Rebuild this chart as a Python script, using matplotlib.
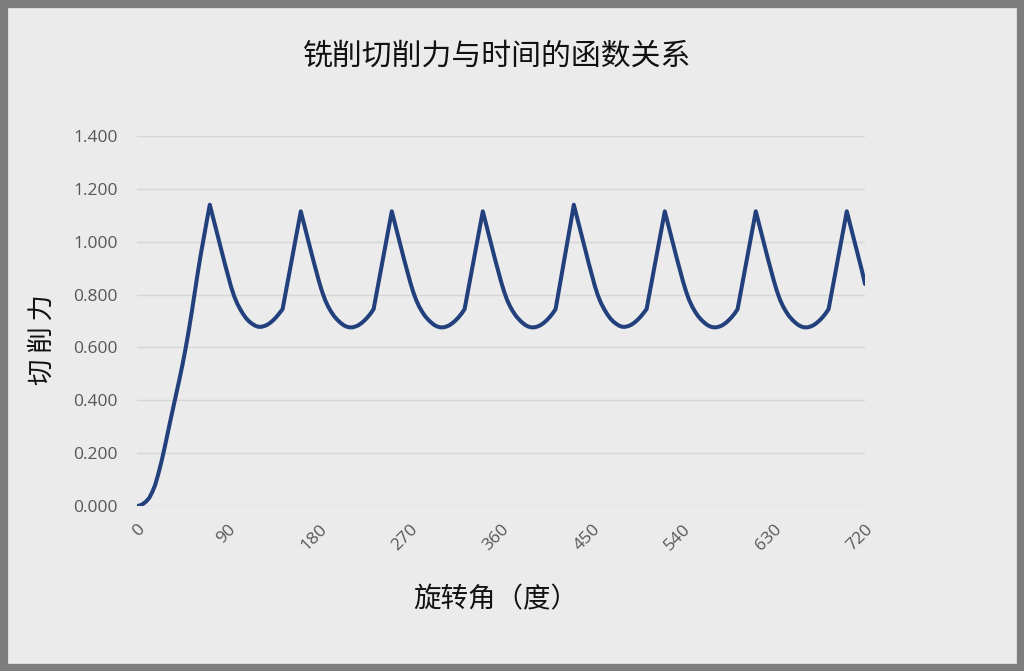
import matplotlib
matplotlib.use("Agg")
import matplotlib.pyplot as plt
from matplotlib.patches import Rectangle

plt.rcParams['font.family'] = ['Noto Sans CJK SC', 'DejaVu Sans']

title = "铣削切削力与时间的函数关系"
x_label = "旋转角（度）"
y_label = "切 削 力"

# rotation angle in degrees, sampled every 3 deg
angle = list(range(0, 721, 3))
# cutting force (one row per tooth pass)
force = [
    0.000, 0.002, 0.008, 0.017, 0.030, 0.052, 0.080, 0.120, 0.165, 0.215, 0.270, 0.323, 0.376,
    0.428, 0.480, 0.535, 0.595, 0.660, 0.730, 0.805, 0.880, 0.950, 1.015, 1.078, 1.140,
    1.095, 1.050, 1.005, 0.960, 0.915, 0.872, 0.830, 0.795, 0.767, 0.745, 0.726, 0.710, 0.698, 0.689, 0.682,
    0.678, 0.678, 0.681, 0.686, 0.694, 0.704, 0.716, 0.730, 0.745, 0.807, 0.870, 0.932, 0.995, 1.055, 1.115,
    1.070, 1.025, 0.980, 0.935, 0.892, 0.850, 0.812, 0.780, 0.755, 0.735, 0.718, 0.705, 0.694, 0.685, 0.679,
    0.676, 0.676, 0.679, 0.684, 0.692, 0.702, 0.714, 0.728, 0.745, 0.807, 0.870, 0.932, 0.995, 1.055, 1.115,
    1.070, 1.025, 0.980, 0.935, 0.892, 0.850, 0.812, 0.780, 0.755, 0.735, 0.718, 0.705, 0.694, 0.685, 0.679,
    0.676, 0.676, 0.679, 0.684, 0.692, 0.702, 0.714, 0.728, 0.745, 0.807, 0.870, 0.932, 0.995, 1.055, 1.115,
    1.070, 1.025, 0.980, 0.935, 0.892, 0.850, 0.812, 0.780, 0.755, 0.735, 0.718, 0.705, 0.694, 0.685, 0.679,
    0.676, 0.676, 0.679, 0.684, 0.692, 0.702, 0.714, 0.728, 0.745, 0.810, 0.875, 0.940, 1.005, 1.072, 1.140,
    1.095, 1.050, 1.005, 0.960, 0.915, 0.872, 0.830, 0.795, 0.767, 0.745, 0.726, 0.710, 0.698, 0.689, 0.682,
    0.678, 0.678, 0.681, 0.686, 0.694, 0.704, 0.716, 0.730, 0.745, 0.807, 0.870, 0.932, 0.995, 1.055, 1.115,
    1.070, 1.025, 0.980, 0.935, 0.892, 0.850, 0.812, 0.780, 0.755, 0.735, 0.718, 0.705, 0.694, 0.685, 0.679,
    0.676, 0.676, 0.679, 0.684, 0.692, 0.702, 0.714, 0.728, 0.745, 0.807, 0.870, 0.932, 0.995, 1.055, 1.115,
    1.070, 1.025, 0.980, 0.935, 0.892, 0.850, 0.812, 0.780, 0.755, 0.735, 0.718, 0.705, 0.694, 0.685, 0.679,
    0.676, 0.676, 0.679, 0.684, 0.692, 0.702, 0.714, 0.728, 0.745, 0.807, 0.870, 0.932, 0.995, 1.055, 1.115,
    1.070, 1.025, 0.980, 0.935, 0.890, 0.840,
]
x_ticks = [0, 90, 180, 270, 360, 450, 540, 630, 720]
y_ticks = [0.0, 0.2, 0.4, 0.6, 0.8, 1.0, 1.2, 1.4]

bg = '#ebebeb'
fig = plt.figure(figsize=(10.24, 6.71), dpi=100, facecolor=bg)
ax = fig.add_axes([137/1024, 1 - 506/671, 728/1024, 370/671])
ax.set_facecolor(bg)

ax.plot(angle, force, color='#22407c', lw=2.9, solid_joinstyle='round', solid_capstyle='round', zorder=3)

ax.set_xlim(0, 720)
ax.set_ylim(0, 1.4)
ax.set_xticks(x_ticks)
ax.set_yticks(y_ticks)
ax.set_yticklabels([f"{v:.3f}" for v in y_ticks], family='Open Sans', fontsize=12.5, color='#575757')
ax.set_xticklabels([str(v) for v in x_ticks], family='Open Sans', fontsize=12.5, color='#575757',
                   rotation=45, ha='right', va='top', rotation_mode='anchor')
ax.tick_params(axis='y', length=0, pad=14)
ax.tick_params(axis='x', length=0, pad=11)
ax.yaxis.grid(True, color='#d6d6d6', lw=1.0)
ax.set_axisbelow(True)
for s in ax.spines.values():
    s.set_visible(False)

fig.text(497/1024, 1 - 56/671, title, ha='center', va='center', fontsize=21.5, color='#111111')
fig.text(496/1024, 1 - 600/671, x_label, ha='center', va='center', fontsize=19.8, color='#111111')
fig.text(42/1024, 1 - 340/671, y_label, ha='center', va='center', rotation=90, fontsize=19, color='#111111')

# grey frame around the picture
fig.patches.append(Rectangle((0, 0), 1, 1, transform=fig.transFigure, fill=False,
                             edgecolor='#7d7d7d', lw=11, zorder=10))

fig.savefig('out.png', dpi=100, facecolor=bg)
